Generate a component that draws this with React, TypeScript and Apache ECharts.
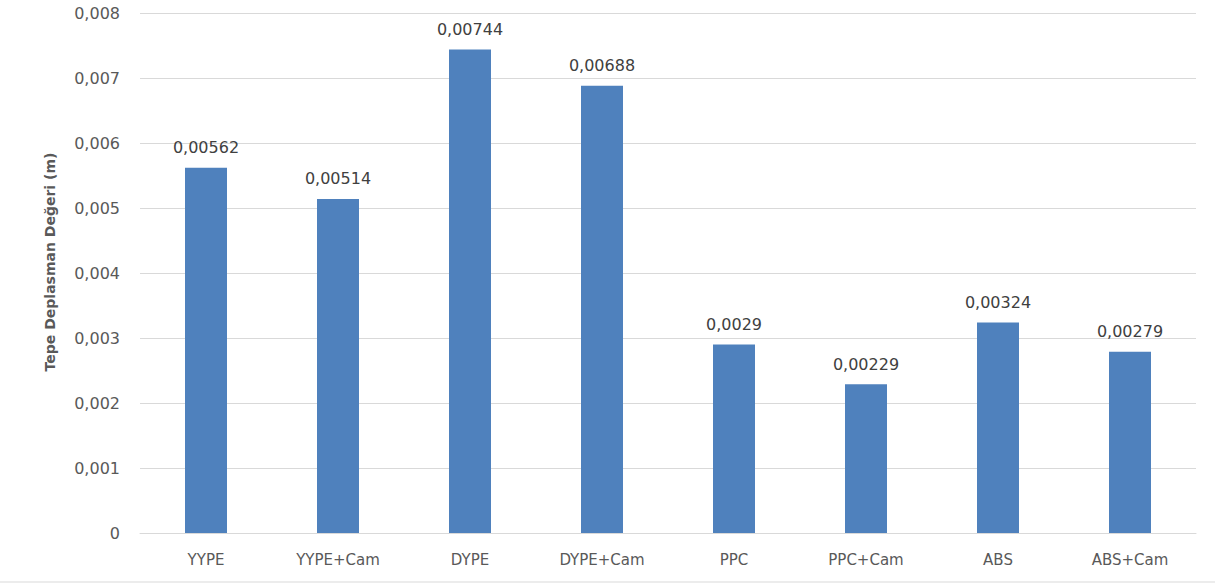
import React, { useEffect, useRef } from "react";
import * as echarts from "echarts";

const categories = ["YYPE", "YYPE+Cam", "DYPE", "DYPE+Cam", "PPC", "PPC+Cam", "ABS", "ABS+Cam"];
const values = [0.00562, 0.00514, 0.00744, 0.00688, 0.0029, 0.00229, 0.00324, 0.00279];
const yMin = 0;
const yMax = 0.008;
const yStep = 0.001;
const yTitle = "Tepe Deplasman Değeri (m)";

const FONT = "'DejaVu Sans', 'Noto Sans', sans-serif";

const toComma = (v: number) => String(v).replace(".", ",");

export default function App() {
  const ref = useRef<HTMLDivElement>(null);

  useEffect(() => {
    if (!ref.current) return;
    const chart = echarts.init(ref.current, undefined, { renderer: "svg" });
    chart.setOption({
      animation: false,
      backgroundColor: "#ffffff",
      grid: { left: 140, right: 19, top: 13, bottom: 52 },
      xAxis: {
        type: "category",
        data: categories,
        axisLine: { show: true, lineStyle: { color: "#d9d9d9", width: 1 } },
        axisTick: { show: false },
        axisLabel: { color: "#595959", fontSize: 15, fontFamily: FONT, margin: 19 },
      },
      yAxis: {
        type: "value",
        min: yMin,
        max: yMax,
        interval: yStep,
        axisLine: { show: false },
        axisTick: { show: false },
        splitLine: { lineStyle: { color: "#d9d9d9", width: 1 } },
        axisLabel: {
          color: "#595959",
          fontSize: 16,
          fontFamily: FONT,
          margin: 20,
          formatter: (v: number) => (v === 0 ? "0" : v.toFixed(3).replace(".", ",")),
        },
      },
      series: [
        {
          type: "bar",
          data: values,
          barWidth: 42,
          itemStyle: { color: "#4f81bd" },
          label: {
            show: true,
            position: "top",
            distance: 12,
            color: "#404040",
            fontSize: 16,
            fontFamily: FONT,
            formatter: (p: any) => toComma(p.value),
          },
        },
      ],
      graphic: [
        {
          type: "text",
          x: 50,
          y: 262,
          rotation: Math.PI / 2,
          style: {
            text: yTitle,
            fill: "#595959",
            font: `bold 14px ${FONT}`,
            align: "center",
            verticalAlign: "middle",
          },
        },
        {
          type: "line",
          shape: { x1: 0, y1: 582, x2: 1215, y2: 582 },
          style: { stroke: "#d9d9d9", lineWidth: 1 },
        },
      ],
    });
    return () => chart.dispose();
  }, []);

  return (
    <div
      ref={ref}
      style={{ position: "fixed", left: 0, top: 0, width: 1215, height: 585 }}
    />
  );
}
